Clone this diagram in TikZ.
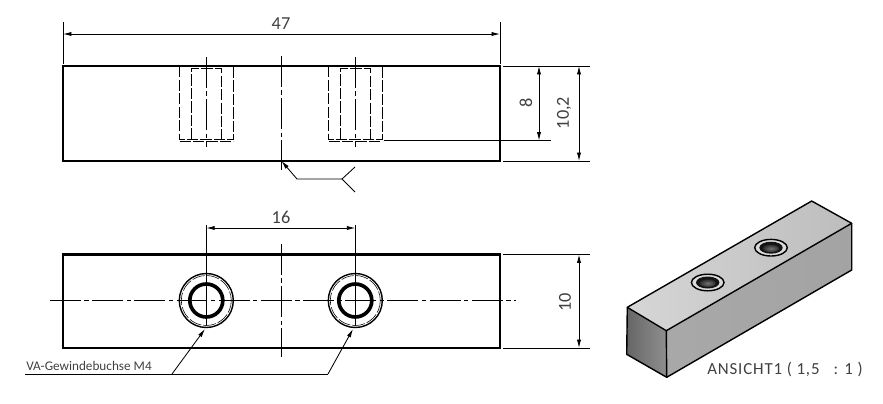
\documentclass[tikz,border=0pt]{standalone}
\usepackage{fontspec}
\setmainfont{Carlito}
\usepackage{tikz}
\usetikzlibrary{arrows.meta}
\definecolor{labelgray}{gray}{0.25}
\tikzset{
	edgeline/.style={line width=1.5pt,black},
	thinline/.style={line width=0.6pt,black},
	hiddenline/.style={line width=0.6pt,black,dash pattern=on 8pt off 1.6pt},
	centerline/.style={line width=0.6pt,black,dash pattern=on 22pt off 2.5pt on 3pt off 2.5pt},
	dimline/.style={line width=0.6pt,black,{Latex[length=6pt,width=3pt]}-{Latex[length=6pt,width=3pt]}},
	dimtext/.style={inner sep=0pt,text=labelgray,font=\fontsize{13}{13}\selectfont},
}
\begin{document}
\begin{tikzpicture}[x=0.025cm,y=-0.025cm]
	\useasboundingbox (0,0) rectangle (883,403);
	\draw[edgeline] (63,66) rectangle (500,161);
	\draw[edgeline] (63,254.5) rectangle (500,348);
	\foreach \x in {206,355}{
		\draw[hiddenline] (\x-26.5,66) -- (\x-26.5,139.5) -- (\x+27.5,139.5) -- (\x+27.5,66);
		\draw[hiddenline] (\x-14.5,139.5) -- (\x-14.5,68.5) -- (\x+15.5,68.5) -- (\x+15.5,139.5);
		\draw[hiddenline] (\x-26.5,141) -- (\x+27.5,141);
		\draw[centerline] (\x+0.3,57) -- (\x+0.3,147);
		\draw[thinline] (\x+0.3,225) -- (\x+0.3,326);
		\draw[line width=1pt] (\x+0.3,300.5) circle (27);
		\draw[line width=0.4pt,dash pattern=on 9pt off 1.5pt] (\x+0.3,300.5) circle (25);
		\draw[line width=2.6pt] (\x+0.3,300.5) circle (16.5);
	}
	\draw[centerline] (281.5,56) -- (281.5,170);
	\draw[centerline] (281.5,244) -- (281.5,357);
	\draw[centerline] (50,300.5) -- (516,300.5);
	% dimensions
	\coordinate (d47l) at (63,34);
	\coordinate (d47r) at (500,34);
	\draw[thinline] (63,22) -- (63,64);
	\draw[thinline] (500,22) -- (500,64);
	\draw[dimline] (d47l) -- (d47r);
	\node[dimtext] (lab47) at (281,24) {47};
	\coordinate (d16l) at (206.3,228);
	\coordinate (d16r) at (355.3,228);
	\draw[dimline] (d16l) -- (d16r);
	\node[dimtext] (lab16) at (281,217) {16};
	\draw[thinline] (503,66) -- (590,66);
	\draw[thinline] (503,161) -- (590,161);
	\draw[thinline] (384,140.5) -- (551,140.5);
	\draw[thinline] (503,254.5) -- (590,254.5);
	\draw[thinline] (503,348) -- (590,348);
	\coordinate (d8t) at (539,66);
	\coordinate (d8b) at (539,140.5);
	\draw[dimline] (d8t) -- (d8b);
	\node[dimtext,rotate=90] (lab8) at (526,103) {8};
	\coordinate (d102t) at (579,66);
	\coordinate (d102b) at (579,161);
	\draw[dimline] (d102t) -- (d102b);
	\node[dimtext,rotate=90] (lab102) at (564,113) {10,2};
	\coordinate (d10t) at (579,254.5);
	\coordinate (d10b) at (579,348);
	\draw[dimline] (d10t) -- (d10b);
	\node[dimtext,rotate=90] (lab10) at (565,302) {10};
	% weld symbol
	\coordinate (weldtip) at (281.5,161);
	\coordinate (weldbend) at (297,179);
	\coordinate (weldfork) at (342,179);
	\coordinate (weldup) at (355,167);
	\coordinate (welddown) at (355,192);
	\draw[thinline,{Latex[length=6pt,width=3pt]}-] (weldtip) -- (weldbend) -- (weldfork);
	\draw[thinline] (weldup) -- (weldfork) -- (welddown);
	% leader
	\node[dimtext,anchor=base west,font=\fontsize{9.4}{9.4}\selectfont] (lablead) at (26,370) {VA-Gewindebuchse M4};
	\coordinate (leadstart) at (25,374);
	\coordinate (leadbendl) at (172,374);
	\coordinate (leadbendr) at (328,374);
	\coordinate (leadtipl) at (205,329);
	\coordinate (leadtipr) at (353,329);
	\draw[thinline] (leadstart) -- (leadbendr);
	\draw[thinline,-{Latex[length=6pt,width=3pt]}] (leadbendl) -- (leadtipl);
	\draw[thinline,-{Latex[length=6pt,width=3pt]}] (leadbendr) -- (leadtipr);
	% view
	\coordinate (isoa) at (627.3,307.3);
	\coordinate (isob) at (666.3,330.7);
	\coordinate (isoc) at (851.7,223.3);
	\coordinate (isod) at (811.7,201);
	\coordinate (isoe) at (626.7,354.3);
	\coordinate (isof) at (666.7,377.3);
	\coordinate (isog) at (851.7,270);
	\shade[left color=black!16,middle color=black!8,right color=black!26] (isoa) -- (isob) -- (isoc) -- (isod) -- cycle;
	\shade[left color=black!34,middle color=black!22,right color=black!36] (isob) -- (isoc) -- (isog) -- (isof) -- cycle;
	\shade[left color=black!60,right color=black!44] (isoa) -- (isob) -- (isof) -- (isoe) -- cycle;
	\draw[line width=1pt,line join=round] (isoa) -- (isob) -- (isoc) -- (isod) -- cycle;
	\draw[line width=1pt,line join=round] (isoa) -- (isoe) -- (isof) -- (isob);
	\draw[line width=1pt,line join=round] (isof) -- (isog) -- (isoc);
	\foreach \x/\y in {707.7/282.5,771/247.7}{
		\draw[line width=1pt,fill=black!14] (\x,\y) ellipse (16.3 and 8.3);
		\fill[black!92] (\x,\y) ellipse (11.7 and 6);
		\shade[inner color=black!55,outer color=black!82] (\x,\y+0.7) ellipse (8 and 3.7);
	}
	\node[dimtext,anchor=base west,font=\fontsize{12}{12}\selectfont\addfontfeature{LetterSpace=5}] (labview) at (707,374) {ANSICHT1 ( 1,5 ~ : 1 )};
\end{tikzpicture}
\end{document}
